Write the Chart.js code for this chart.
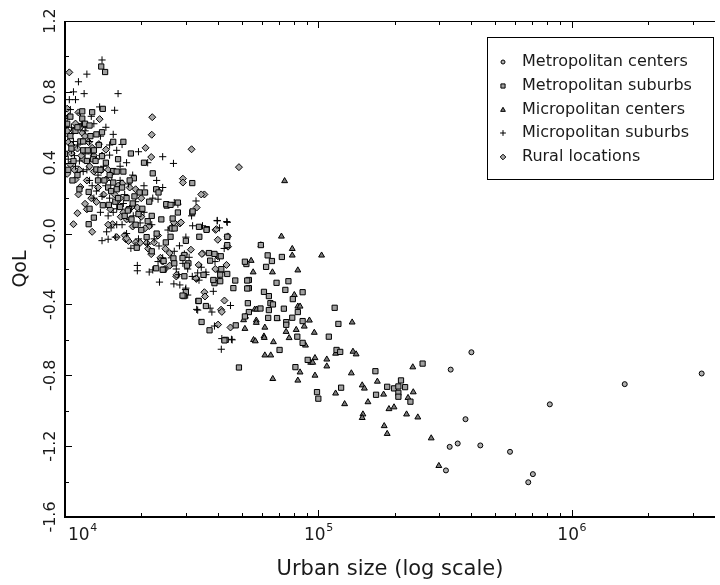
<!DOCTYPE html>
<html><head><meta charset="utf-8">
<script src="https://cdn.jsdelivr.net/npm/chart.js@4/dist/chart.umd.min.js"></script>
<style>html,body{margin:0;padding:0;background:#fff;}#wrap{width:720px;height:585px;}</style>
</head><body><div id="wrap"><canvas id="c" width="720" height="585"></canvas></div>
<script>
// ---- data (urban size, QoL) ----
const seriesNames = ['Metropolitan centers','Metropolitan suburbs','Micropolitan centers','Micropolitan suburbs','Rural locations'];
const metroCenters = [[3.26e6,-0.79],[1.62e6,-0.85],[8.2e5,-0.964],[4.02e5,-0.67],[3.33e5,-0.768],[3.81e5,-1.048],[3.3e5,-1.204],[3.55e5,-1.185],[4.36e5,-1.196],[5.71e5,-1.232],[3.19e5,-1.337],[6.74e5,-1.404],[7.03e5,-1.358]];
const microCenters = [[7.36e4,0.297],[7.15e4,-0.016],[5.93e4,-0.065],[7.89e4,-0.086],[7.89e4,-0.123],[1.03e5,-0.123],[5.43e4,-0.153],[8.3e4,-0.207],[6.59e4,-0.218],[5.53e4,-0.218],[8.04e4,-0.346],[8.3e4,-0.411],[8.47e4,-0.411],[5.61e4,-0.428],[5.71e4,-0.428],[9.22e4,-0.49],[1.36e5,-0.501],[5.69e4,-0.49],[5.69e4,-0.503],[6.89e4,-0.481],[6.15e4,-0.53],[8.8e4,-0.524],[7.46e4,-0.554],[8.18e4,-0.543],[9.64e4,-0.559],[7.67e4,-0.589],[5.55e4,-0.6],[5.64e4,-0.607],[6.1e4,-0.58],[6.12e4,-0.588],[6.65e4,-0.612],[8.9e4,-0.631],[6.15e4,-0.687],[6.49e4,-0.687],[9.7e4,-0.702],[1.08e5,-0.71],[9.33e4,-0.728],[9.5e4,-0.728],[1.08e5,-0.749],[1.17e5,-0.677],[1.37e5,-0.666],[1.41e5,-0.681],[8.47e4,-0.783],[6.61e4,-0.82],[8.3e4,-0.829],[9.7e4,-0.801],[1.35e5,-0.788],[1.17e5,-0.902],[1.27e5,-0.962],[1.49e5,-0.856],[1.52e5,-0.874],[1.57e5,-0.951],[1.71e5,-0.835],[1.81e5,-0.908],[1.5e5,-1.02],[1.49e5,-1.04],[1.9e5,-0.99],[1.99e5,-0.98],[2.23e5,-1.02],[2.47e5,-1.037],[2.36e5,-0.754],[2.37e5,-0.895],[2.26e5,-0.927],[1.82e5,-1.086],[1.87e5,-1.13],[2.79e5,-1.155],[2.99e5,-1.311],[5.13e4,-0.537],[5.07e4,-0.488],[5.16e4,-0.468]];
const metroSuburbs = [[5.93e4,-0.065],[6.31e4,-0.123],[6.56e4,-0.155],[7.18e4,-0.132],[6.22e4,-0.188],[5.32e4,-0.262],[6.84e4,-0.278],[7.62e4,-0.269],[7.41e4,-0.318],[5.32e4,-0.308],[6.1e4,-0.329],[6.38e4,-0.353],[8.67e4,-0.331],[7.93e4,-0.37],[6.47e4,-0.393],[6.62e4,-0.4],[7.31e4,-0.424],[6.38e4,-0.432],[5.32e4,-0.443],[5.91e4,-0.423],[8.3e4,-0.443],[1.16e5,-0.419],[8.67e4,-0.494],[7.47e4,-0.5],[7.47e4,-0.515],[7.89e4,-0.475],[6.34e4,-0.476],[1.2e5,-0.51],[8.26e4,-0.582],[1.1e5,-0.582],[8.67e4,-0.617],[7.03e4,-0.657],[1.18e5,-0.657],[1.22e5,-0.668],[9.08e4,-0.713],[8.12e4,-0.754],[9.88e4,-0.895],[1.0e5,-0.932],[1.23e5,-0.87],[1.68e5,-0.777],[1.69e5,-0.91],[1.87e5,-0.865],[1.99e5,-0.874],[2.07e5,-0.863],[2.12e5,-0.829],[2.2e5,-0.867],[2.07e5,-0.899],[2.07e5,-0.921],[2.31e5,-0.949],[2.58e5,-0.734],[6.87e4,-0.477],[5.13e4,-0.468],[4.86e4,-0.756],[4.72e4,-0.518],[4.31e4,-0.6],
[1.24e4,0.053],[1.49e4,0.162],[1.79e4,0.138],[2.52e4,0.158],[2.79e4,0.119],[3.18e4,0.119],[2.66e4,0.085],[2.64e4,0.029],[2.71e4,0.029],[3.38e4,0.038],[3.63e4,0.025],[4.37e4,-0.018],[4.37e4,-0.065],[3.39e4,-0.018],[3.89e4,-0.115],[4.12e4,-0.128],[3.0e4,-0.041],[2.61e4,-0.018],[3.07e4,-0.168],[3.03e4,-0.181],[2.68e4,-0.14],[2.7e4,-0.168],[2.96e4,-0.241],[2.45e4,-0.155],[2.45e4,-0.204],[3.0e4,-0.331],[2.95e4,-0.353],[3.36e4,-0.381],[3.6e4,-0.409],[3.52e4,-0.233],[3.89e4,-0.28],[4.1e4,-0.269],[4.1e4,-0.232],[4.14e4,-0.201],[4.37e4,-0.228],[3.46e4,-0.499],[3.72e4,-0.546],[4.26e4,-0.603],[4.62e4,-0.308],[4.7e4,-0.265],[5.24e4,-0.265],[5.24e4,-0.31],[5.2e4,-0.172],[5.13e4,-0.159],[3.62e4,0.021],[2.96e4,-0.121],[2.91e4,-0.138],[3.74e4,-0.153],[3.7e4,-0.11],[2.43e4,-0.204],[2.29e4,-0.196],[3.85e4,-0.262],[2.91e4,-0.35],[3.37e4,-0.38],[5.27e4,-0.393],
[1.39e4,0.943],[1.44e4,0.912],[1.17e4,0.69],[1.28e4,0.685],[1.41e4,0.704],[1.17e4,0.649],[1.4e4,0.572],[1.55e4,0.518],[1.7e4,0.518],[1.82e4,0.452],[3.18e4,0.285],[2.22e4,0.34],[1.4e4,0.437],[1.29e4,0.419],[1.33e4,0.362],[1.55e4,0.353],[1.55e4,0.288],[1.87e4,0.312],[1.97e4,0.232],[2.07e4,0.232],[2.29e4,0.25],[2.34e4,0.232],[2.79e4,0.175],[2.51e4,0.166],[2.61e4,0.162],[3.19e4,0.125],[1.24e4,0.235],
[1.02e4,0.62],[1.05e4,0.55],[1.0e4,0.45],[1.08e4,0.41],[1.03e4,0.36],[1.12e4,0.33],[1.06e4,0.48],[1.15e4,0.52],[1.2e4,0.62],[1.22e4,0.41],[1.3e4,0.47],[1.35e4,0.3],[1.45e4,0.4],[1.5e4,0.33],[1.6e4,0.25],[1.65e4,0.15],[1.75e4,0.2],[1.8e4,0.3],[1.9e4,0.05],[2.0e4,0.02],[2.1e4,-0.02],[2.2e4,0.1],[2.3e4,0.0],[1.7e4,0.35],[2.05e4,0.4],[1.25e4,0.14],[1.1e4,0.58],[1.18e4,0.47],[1.26e4,0.55],[1.36e4,0.5],[1.62e4,0.42],[1.48e4,0.26],[1.58e4,0.18],[1.72e4,0.1],[1.85e4,0.17],[1.95e4,0.11],[2.15e4,0.18],[2.4e4,0.08],[2.5e4,-0.05],[2.2e4,-0.1],[1.92e4,-0.08],
[1.05e4,0.66],[1.12e4,0.6],[1.18e4,0.52],[1.23e4,0.47],[1.32e4,0.41],[1.38e4,0.36],[1.43e4,0.3],[1.52e4,0.24],[1.62e4,0.2],[1.68e4,0.26],[1.77e4,0.13],[1.83e4,0.08],[1.88e4,0.21],[2.02e4,0.14],[2.12e4,0.07],[1.07e4,0.3],[1.14e4,0.25],[1.3e4,0.09],[1.41e4,0.16],[1.6e4,0.35],[1.25e4,0.61],[1.33e4,0.56]];
const microSuburbs = [[1.4e4,0.98],[1.22e4,0.9],[1.13e4,0.857],[1.08e4,0.8],[1.19e4,0.79],[1.62e4,0.79],[1.57e4,0.696],[1.37e4,0.715],[1.04e4,0.756],[1.1e4,0.756],[2.43e4,0.434],[2.68e4,0.396],[3.29e4,0.184],[1.95e4,0.462],[2.12e4,0.4],[1.68e4,0.503],[1.5e4,0.443],[1.27e4,0.662],[1.21e4,0.6],[1.05e4,0.7],[1.15e4,0.68],[1.3e4,0.62],[1.45e4,0.6],[1.38e4,0.55],[1.55e4,0.56],[1.25e4,0.52],[1.12e4,0.5],[1.2e4,0.45],[1.33e4,0.42],[1.6e4,0.47],[1.75e4,0.4],[1.85e4,0.33],[1.65e4,0.3],[1.45e4,0.27],[1.35e4,0.33],[1.28e4,0.27],[1.5e4,0.2],[1.72e4,0.22],[1.9e4,0.18],[2.05e4,0.27],[2.3e4,0.3],[2.05e4,0.12],[1.8e4,0.08],[1.6e4,0.05],[1.48e4,0.1],[1.4e4,-0.04],[1.58e4,-0.02],[1.75e4,0.0],[1.95e4,-0.03],[2.2e4,0.05],[2.35e4,-0.07],[2.55e4,0.02],[2.7e4,-0.1],[3.0e4,-0.02],
[3.16e4,0.1],[2.43e4,0.26],[2.36e4,0.24],[2.22e4,0.2],[2.33e4,0.194],[2.7e4,0.175],[2.79e4,0.166],[3.99e4,0.074],[4.37e4,0.063],[4.07e4,0.032],[4.14e4,-0.653],[4.57e4,-0.6],[3.85e4,-0.326],[3.74e4,-0.421],[3.34e4,-0.432],[2.99e4,-0.316],[3.05e4,-0.347],[1.93e4,-0.18],[1.93e4,-0.21],[2.15e4,-0.217],[1.48e4,-0.032],[1.46e4,0.01],[1.52e4,0.032],[2.33e4,-0.158],[2.43e4,-0.137],[2.63e4,-0.137],[2.75e4,-0.2],[2.81e4,-0.232],[2.69e4,-0.284],[3.18e4,-0.242],[3.38e4,-0.263],[3.45e4,-0.19],[3.6e4,-0.232],[2.92e4,-0.168],[3.05e4,-0.2],[3.91e4,-0.158],[4.07e4,-0.137],[4.25e4,-0.084],[1.82e4,-0.083],[1.89e4,-0.069],[2.22e4,-0.205],[2.84e4,-0.29],[3.0e4,-0.308],[3.31e4,-0.428],[3.8e4,-0.443],[4.5e4,-0.406],[3.89e4,-0.522],[4.16e4,-0.593],[4.54e4,-0.597],[3.19e4,0.044],[3.49e4,0.044],[3.99e4,0.072],[4.35e4,0.068],[2.96e4,-0.115],[3.09e4,-0.134],[2.36e4,-0.274],[3.34e4,-0.222],[3.6e4,-0.218],[2.83e4,-0.069],[1.02e4,0.65],[1.06e4,0.6],[1.08e4,0.52],[1.03e4,0.42],[1.1e4,0.38],[1.18e4,0.35],[1.25e4,0.3],[1.3e4,0.2],[1.38e4,0.12],[1.42e4,0.38],[1.65e4,0.38],[1.78e4,0.28],[1.55e4,0.12],[1.68e4,0.05],
[1.06e4,0.47],[1.09e4,0.44],[1.14e4,0.41],[1.22e4,0.36],[1.33e4,0.24],[1.4e4,0.21],[1.53e4,0.3],[1.6e4,0.14],[1.7e4,0.17],[1.86e4,0.1],[1.98e4,0.06],[2.12e4,-0.06],[2.25e4,-0.03],[1.2e4,0.58],[1.27e4,0.45],[1.5e4,0.5],[1.04e4,0.55],[1.16e4,0.62]];
const rural = [[1.04e4,0.91],[1.37e4,0.646],[2.21e4,0.657],[2.2e4,0.558],[3.16e4,0.476],[4.86e4,0.375],[2.08e4,0.484],[2.19e4,0.432],[2.92e4,0.31],[2.92e4,0.288],[3.55e4,0.221],[1.02e4,0.705],[1.04e4,0.663],[1.02e4,0.579],[1.03e4,0.516],[1.06e4,0.453],[1.05e4,0.39],[1.02e4,0.337],[1.1e4,0.621],[1.15e4,0.6],[1.17e4,0.568],[1.13e4,0.684],[1.24e4,0.516],[1.28e4,0.484],[1.36e4,0.505],[1.45e4,0.474],[1.1e4,0.305],[1.15e4,0.263],[1.13e4,0.221],[1.2e4,0.168],[1.12e4,0.115],[1.08e4,0.053],[1.28e4,0.01],[1.22e4,0.137],[1.33e4,0.179],[1.51e4,0.137],[1.54e4,0.053],[1.66e4,0.095],[1.57e4,0.221],[1.74e4,-0.032],[1.78e4,-0.042],[1.45e4,0.305],[1.39e4,0.358],[1.54e4,0.347],[1.68e4,0.284],[1.93e4,0.147],[2.0e4,0.095],[2.15e4,0.042],[2.1e4,-0.053],[2.19e4,-0.116],[2.13e4,-0.085],[2.38e4,-0.137],[2.43e4,-0.158],[2.33e4,-0.011],[2.48e4,-0.2],[2.75e4,-0.242],[2.69e4,0.063],[2.63e4,0.032],[2.84e4,0.057],[4.01e4,-0.035],[4.39e4,-0.016],[4.01e4,-0.128],[3.49e4,-0.112],[3.14e4,-0.091],[2.49e4,-0.086],[2.59e4,-0.11],[2.59e4,-0.181],[2.76e4,-0.232],[3.37e4,-0.177],[3.92e4,-0.2],[4.34e4,-0.177],[4.1e4,-0.218],[4.02e4,-0.262],[3.3e4,-0.256],[3.55e4,-0.331],[3.57e4,-0.355],[4.26e4,-0.378],[4.13e4,-0.43],[4.02e4,-0.514],[4.5e4,-0.53],[4.16e4,-0.442],[4.4e4,-0.074],[3.93e4,0.021],[3.31e4,0.147],[3.45e4,0.221],[2.87e4,0.063],[1.18e4,0.42],[1.25e4,0.38],[1.3e4,0.44],[1.12e4,0.48],[1.08e4,0.58],[1.2e4,0.55],[1.14e4,0.36],[1.35e4,0.26],[1.27e4,0.2],[1.42e4,0.22],[1.6e4,0.18],[1.7e4,0.12],[1.85e4,0.04],[1.72e4,-0.01],[1.9e4,-0.05],[2.0e4,0.2],[1.8e4,0.26],[1.98e4,-0.052],[1.75e4,-0.027],[3.47e4,-0.115],[3.96e4,0.025],[3.29e4,-0.252],
[1.06e4,0.5],[1.09e4,0.36],[1.16e4,0.44],[1.22e4,0.3],[1.3e4,0.35],[1.4e4,0.44],[1.48e4,0.36],[1.62e4,0.27],[1.75e4,0.08],[1.83e4,0.15],[1.9e4,0.25],[2.07e4,0.03],[2.25e4,-0.05],[1.48e4,0.05],[1.6e4,-0.02],[1.65e4,0.2]];

// ---- axes ----
const xMin = 1e4, xMax = 3.68e6, yMin = -1.6, yMax = 1.2;
const xDecades = [1e4, 1e5, 1e6];
const xLabelExps = ['4', '5', '6'];
const yLabelValues = [1.2, 0.8, 0.4, 0.0, -0.4, -0.8, -1.2, -1.6];
const yLabelTexts = ['1.2', '0.8', '0.4', '-0.0', '-0.4', '-0.8', '-1.2', '-1.6'];
const yTickStep = 0.2;
const xTitle = 'Urban size (log scale)';
const yTitle = 'QoL';

const FONT = '"DejaVu Sans", sans-serif';
const TEXT = '#1a1a1a';
const styles = [
  {pointStyle:'circle', r:2.5, bg:'#b0b0b0'},
  {pointStyle:'rect', r:3.7, bg:'#a0a0a0'},
  {pointStyle:'triangle', r:3.4, bg:'#7a7a7a'},
  {pointStyle:'cross', r:3.6, bg:'#000'},
  {pointStyle:'rectRot', r:3.5, bg:'#a8a8a8'}
];
const seriesData = [metroCenters, metroSuburbs, microCenters, microSuburbs, rural];

function drawMarker(ctx, st, x, y, scale){
  const r = st.r*scale;
  ctx.beginPath();
  if (st.pointStyle==='circle'){ ctx.arc(x,y,r,0,Math.PI*2); }
  else if (st.pointStyle==='rect'){ const s=r*Math.SQRT1_2; ctx.rect(x-s,y-s,2*s,2*s); }
  else if (st.pointStyle==='triangle'){ ctx.moveTo(x, y-r); ctx.lineTo(x+r*0.866, y+r*0.5); ctx.lineTo(x-r*0.866, y+r*0.5); ctx.closePath(); }
  else if (st.pointStyle==='rectRot'){ ctx.moveTo(x,y-r); ctx.lineTo(x+r,y); ctx.lineTo(x,y+r); ctx.lineTo(x-r,y); ctx.closePath(); }
  else if (st.pointStyle==='cross'){ ctx.moveTo(x-r,y); ctx.lineTo(x+r,y); ctx.moveTo(x,y-r); ctx.lineTo(x,y+r); ctx.stroke(); return; }
  ctx.fill(); ctx.stroke();
}

const framePlugin = {
  id:'frame',
  afterDatasetsDraw(chart){
    const {ctx, chartArea:a, scales:{x, y}} = chart;
    ctx.save();
    ctx.strokeStyle = '#000';
    ctx.fillStyle = TEXT;
    ctx.lineWidth = 1;
    ctx.beginPath(); ctx.moveTo(a.left, a.top+0.5); ctx.lineTo(a.right, a.top+0.5); ctx.stroke();
    ctx.lineWidth = 2;
    ctx.beginPath(); ctx.moveTo(a.left, a.top); ctx.lineTo(a.left, a.bottom); ctx.lineTo(a.right, a.bottom); ctx.stroke();
    ctx.lineWidth = 1;
    xDecades.forEach(d => {
      for (let m = 1; m <= 9; m++){
        const v = d*m; if (v > xMax) break;
        const px = Math.round(x.getPixelForValue(v)) + 0.5;
        const len = m===1 ? 7 : 4;
        ctx.beginPath();
        ctx.moveTo(px, a.bottom); ctx.lineTo(px, a.bottom-len);
        ctx.moveTo(px, a.top); ctx.lineTo(px, a.top+len);
        ctx.stroke();
      }
    });
    const nY = Math.round((yMax-yMin)/yTickStep);
    for (let i = 0; i <= nY; i++){
      const v = yMin + i*yTickStep;
      const py = Math.round(y.getPixelForValue(v)) + 0.5;
      const len = (i % 2 === 0) ? 7 : 4;
      ctx.beginPath(); ctx.moveTo(a.left, py); ctx.lineTo(a.left+len, py); ctx.stroke();
    }
    ctx.font = '16px ' + FONT;
    ctx.textAlign = 'center'; ctx.textBaseline = 'middle';
    yLabelValues.forEach((v, i) => {
      const py = y.getPixelForValue(v);
      ctx.save(); ctx.translate(51, py); ctx.rotate(-Math.PI/2);
      ctx.fillText(yLabelTexts[i], 0, 0); ctx.restore();
    });
    xDecades.forEach((d, i) => {
      const px = x.getPixelForValue(d);
      ctx.font = '17px ' + FONT;
      const w1 = ctx.measureText('10').width;
      ctx.font = '11px ' + FONT;
      const w2 = ctx.measureText(xLabelExps[i]).width;
      let left = px - (w1+w2)/2;
      if (left < a.left + 3) left = a.left + 3;
      ctx.textAlign = 'left'; ctx.textBaseline = 'alphabetic';
      ctx.font = '17px ' + FONT; ctx.fillText('10', left, 540);
      ctx.font = '11px ' + FONT; ctx.fillText(xLabelExps[i], left + w1 + 0.5, 531);
    });
    ctx.font = '21px ' + FONT; ctx.textAlign = 'center'; ctx.textBaseline = 'middle';
    ctx.fillText(xTitle, (a.left + a.right)/2, 570);
    ctx.save(); ctx.translate(21, (a.top + a.bottom)/2); ctx.rotate(-Math.PI/2);
    ctx.font = '19px ' + FONT; ctx.fillText(yTitle, 0, 0); ctx.restore();
    const L = {x0:487.5, y0:37.5, x1:713.5, y1:179.5};
    ctx.lineWidth = 1; ctx.strokeStyle = '#000';
    ctx.strokeRect(L.x0, L.y0, L.x1-L.x0, L.y1-L.y0);
    const rows = [62, 86, 110, 133, 157];
    ctx.font = '16px ' + FONT; ctx.textAlign = 'left'; ctx.textBaseline = 'middle';
    seriesNames.forEach((n, i) => {
      ctx.fillStyle = TEXT;
      ctx.fillText(n, 522, rows[i]);
      ctx.fillStyle = styles[i].bg; ctx.strokeStyle = '#000'; ctx.lineWidth = 1;
      drawMarker(ctx, styles[i], 503, rows[i], 0.8);
    });
    ctx.restore();
  }
};

new Chart(document.getElementById('c'), {
  type: 'scatter',
  data: {
    datasets: seriesData.map((arr, i) => ({
      label: seriesNames[i],
      data: arr.map(p => ({x: p[0], y: p[1]})),
      pointStyle: styles[i].pointStyle,
      pointRadius: styles[i].r,
      pointBorderWidth: 1,
      borderColor: '#000',
      pointBorderColor: '#000',
      pointBackgroundColor: styles[i].bg,
      backgroundColor: styles[i].bg,
      showLine: false
    }))
  },
  options: {
    responsive: false, animation: false, devicePixelRatio: 1, events: [],
    layout: {padding: {left: 0, right: 0, top: 21, bottom: 0}},
    plugins: {legend: {display: false}, tooltip: {enabled: false}},
    scales: {
      x: {type: 'logarithmic', min: xMin, max: xMax,
          ticks: {display: false}, grid: {display: false}, border: {display: false},
          afterFit(s){ s.height = 68; }},
      y: {type: 'linear', min: yMin, max: yMax,
          ticks: {display: false}, grid: {display: false}, border: {display: false},
          afterFit(s){ s.width = 65; }}
    }
  },
  plugins: [framePlugin]
});
</script>
</body></html>
